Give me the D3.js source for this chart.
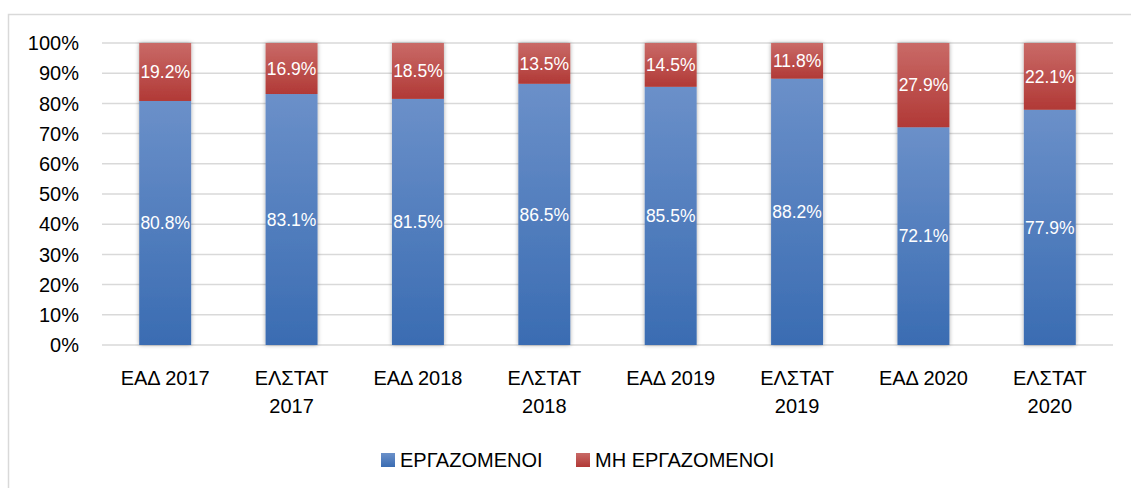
<!DOCTYPE html>
<html>
<head>
<meta charset="utf-8">
<script src="https://cdn.jsdelivr.net/npm/d3@7"></script>
<style>
  body { margin: 0; background: #fff; }
  text { font-family: "Liberation Sans", Arial, sans-serif; }
</style>
</head>
<body>
<div id="canvas"></div>
<script>
(function(d3){

  var categories = [["ΕΑΔ 2017"], ["ΕΛΣΤΑΤ", "2017"], ["ΕΑΔ 2018"], ["ΕΛΣΤΑΤ", "2018"],
                    ["ΕΑΔ 2019"], ["ΕΛΣΤΑΤ", "2019"], ["ΕΑΔ 2020"], ["ΕΛΣΤΑΤ", "2020"]],
      employed   = [80.8, 83.1, 81.5, 86.5, 85.5, 88.2, 72.1, 77.9],
      unemployed = [19.2, 16.9, 18.5, 13.5, 14.5, 11.8, 27.9, 22.1],
      yTicks = [0, 10, 20, 30, 40, 50, 60, 70, 80, 90, 100],
      seriesNames = ["ΕΡΓΑΖΟΜΕΝΟΙ", "ΜΗ ΕΡΓΑΖΟΜΕΝΟΙ"];

  var width = 1131, height = 488,
      plot = {left: 102, right: 1113, top: 43, bottom: 345};

  var svg = d3.select('#canvas').append('svg')
      .attr('width', width)
      .attr('height', height);

  var defs = svg.append('defs');

  function gradient(id, top, bottom) {
    var g = defs.append('linearGradient')
        .attr('id', id).attr('x1', 0).attr('y1', 0).attr('x2', 0).attr('y2', 1);
    g.append('stop').attr('offset', '0%').attr('stop-color', top);
    g.append('stop').attr('offset', '100%').attr('stop-color', bottom);
  }
  gradient('gBlue', '#6b90c9', '#3a6cb2');
  gradient('gRed', '#c96a67', '#b13936');

  var shadow = defs.append('filter').attr('id', 'shadow')
      .attr('x', '-30%').attr('y', '-5%').attr('width', '160%').attr('height', '110%');
  shadow.append('feDropShadow')
      .attr('dx', 0).attr('dy', 0).attr('stdDeviation', 2.2)
      .attr('flood-color', '#000').attr('flood-opacity', 0.35);

  // outer frame
  svg.append('rect')
      .attr('x', 8.5).attr('y', 14.5)
      .attr('width', width).attr('height', height)
      .attr('fill', 'none').attr('stroke', '#d9d9d9').attr('stroke-width', 1.5);

  var x = d3.scaleBand()
      .domain(d3.range(categories.length))
      .range([plot.left, plot.right])
      .paddingInner(0.589)
      .paddingOuter(0.589 / 2);

  var y = d3.scaleLinear()
      .domain([0, 100])
      .range([plot.bottom, plot.top]);

  // gridlines
  svg.append('g').selectAll('line')
      .data(yTicks)
    .enter().append('line')
      .attr('x1', plot.left).attr('x2', plot.right)
      .attr('y1', function(d){ return y(d); })
      .attr('y2', function(d){ return y(d); })
      .attr('stroke', '#d9d9d9').attr('stroke-width', 1.5);

  // y labels
  svg.append('g').selectAll('text')
      .data(yTicks)
    .enter().append('text')
      .attr('x', 79)
      .attr('y', function(d){ return y(d); })
      .attr('dy', '0.36em')
      .attr('text-anchor', 'end')
      .attr('font-size', 20)
      .attr('fill', '#000')
      .text(function(d){ return d + '%'; });

  var rows = employed.map(function(d, i){ return {i: i, emp: d, unemp: unemployed[i]}; });

  var bars = svg.append('g').selectAll('g')
      .data(rows)
    .enter().append('g')
      .attr('filter', 'url(#shadow)');

  bars.append('rect')
      .attr('x', function(d){ return x(d.i); })
      .attr('width', x.bandwidth())
      .attr('y', function(d){ return y(d.emp); })
      .attr('height', function(d){ return y(0) - y(d.emp); })
      .attr('fill', 'url(#gBlue)');

  bars.append('rect')
      .attr('x', function(d){ return x(d.i); })
      .attr('width', x.bandwidth())
      .attr('y', function(d){ return y(d.emp + d.unemp); })
      .attr('height', function(d){ return y(d.emp) - y(d.emp + d.unemp); })
      .attr('fill', 'url(#gRed)');

  var labels = svg.append('g');
  labels.selectAll('text.emp')
      .data(rows)
    .enter().append('text')
      .attr('class', 'emp')
      .attr('x', function(d){ return x(d.i) + x.bandwidth() / 2; })
      .attr('y', function(d){ return y(d.emp / 2); })
      .attr('dy', '0.36em')
      .attr('text-anchor', 'middle')
      .attr('font-size', 17.5)
      .attr('fill', '#fff')
      .text(function(d){ return d.emp.toFixed(1) + '%'; });

  labels.selectAll('text.unemp')
      .data(rows)
    .enter().append('text')
      .attr('class', 'unemp')
      .attr('x', function(d){ return x(d.i) + x.bandwidth() / 2; })
      .attr('y', function(d){ return y(d.emp + d.unemp / 2); })
      .attr('dy', '0.36em')
      .attr('text-anchor', 'middle')
      .attr('font-size', 17.5)
      .attr('fill', '#fff')
      .text(function(d){ return d.unemp.toFixed(1) + '%'; });

  // category labels
  var cats = svg.append('g').selectAll('text')
      .data(categories)
    .enter().append('text')
      .attr('x', function(d, i){ return x(i) + x.bandwidth() / 2; })
      .attr('y', 385)
      .attr('text-anchor', 'middle')
      .attr('font-size', 20)
      .attr('fill', '#000');
  cats.selectAll('tspan')
      .data(function(d){ return d; })
    .enter().append('tspan')
      .attr('x', function(){ return d3.select(this.parentNode).attr('x'); })
      .attr('dy', function(d, j){ return j ? 28 : 0; })
      .text(function(d){ return d; });

  // legend
  var legend = svg.append('g');
  var legendX = [381, 576], fills = ['url(#gBlue)', 'url(#gRed)'];
  seriesNames.forEach(function(name, i){
    legend.append('rect')
        .attr('x', legendX[i]).attr('y', 453)
        .attr('width', 14).attr('height', 14)
        .attr('fill', fills[i]);
    legend.append('text')
        .attr('x', legendX[i] + 19).attr('y', 467)
        .attr('font-size', 20)
        .attr('fill', '#000')
        .text(name);
  });

})(d3);
</script>
</body>
</html>
